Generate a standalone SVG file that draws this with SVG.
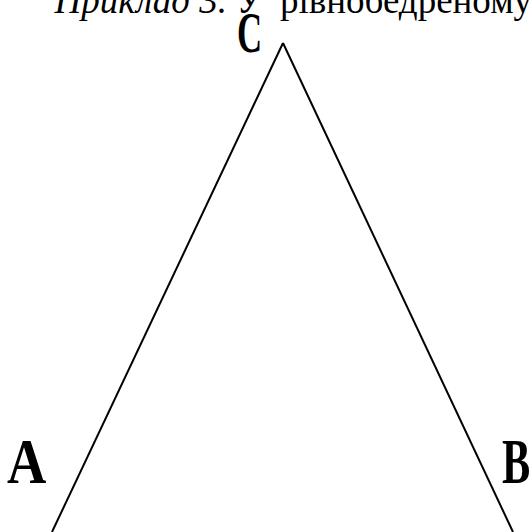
<svg xmlns="http://www.w3.org/2000/svg" width="531" height="532" viewBox="0 0 531 532">
<style>
.hdr{font-family:"Liberation Serif","Times New Roman",serif;font-size:37px;fill:#000}
.it{font-style:italic}
.lbl{font-family:"Liberation Serif","Times New Roman",serif;font-weight:bold;fill:#000}
.edge{stroke:#000;stroke-width:2;fill:none}
</style>
<rect width="531" height="532" fill="#fff"/>
<g id="header">
<text class="hdr it" x="227" y="13" text-anchor="end">Приклад 3.</text>
<text class="hdr" x="236" y="13">У</text>
<text class="hdr" x="280" y="13">рівнобедреному</text>
</g>
<g id="connectors">
<line class="edge" x1="283" y1="43" x2="52" y2="532"/>
<line class="edge" x1="283" y1="43" x2="513" y2="532"/>
</g>
<g id="node-C">
<text class="lbl" font-size="58" transform="translate(237,52) scale(0.6,1)">C</text>
</g>
<g id="node-A">
<text class="lbl" font-size="64" transform="translate(7,483) scale(0.85,1)">A</text>
</g>
<g id="node-B">
<text class="lbl" font-size="64" transform="translate(502,483) scale(0.66,1)">B</text>
</g>
</svg>
